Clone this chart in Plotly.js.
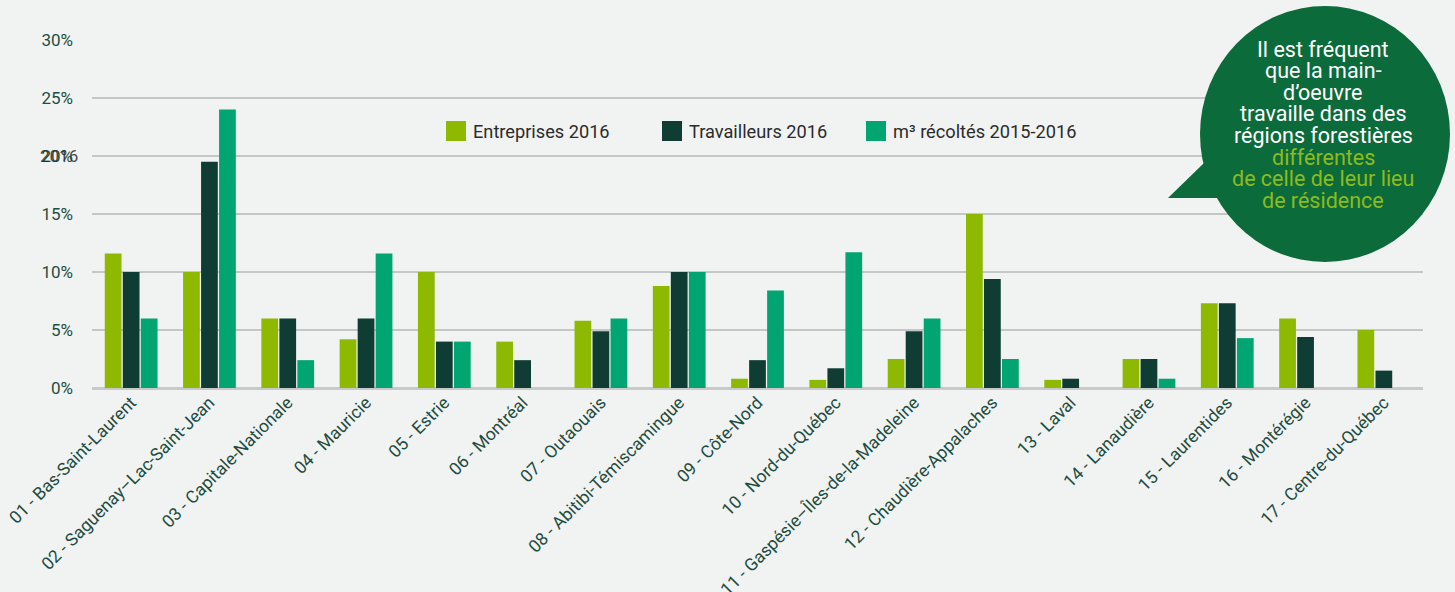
<!DOCTYPE html>
<html>
<head>
<meta charset="utf-8">
<script src="https://cdn.plot.ly/plotly-3.0.1.min.js"></script>
<style>
  html, body { margin: 0; padding: 0; background: #f1f3f2; }
  #chart { width: 1455px; height: 592px; }
</style>
</head>
<body>
<div id="chart"></div>
<script>
const regions = [
  "01 - Bas-Saint-Laurent",
  "02 - Saguenay–Lac-Saint-Jean",
  "03 - Capitale-Nationale",
  "04 - Mauricie",
  "05 - Estrie",
  "06 - Montréal",
  "07 - Outaouais",
  "08 - Abitibi-Témiscamingue",
  "09 - Côte-Nord",
  "10 - Nord-du-Québec",
  "11 - Gaspésie–Îles-de-la-Madeleine",
  "12 - Chaudière-Appalaches",
  "13 - Laval",
  "14 - Lanaudière",
  "15 - Laurentides",
  "16 - Montérégie",
  "17 - Centre-du-Québec"
];
const entreprises2016 = [11.6, 10.0, 6.0, 4.2, 10.0, 4.0, 5.8, 8.8, 0.8, 0.7, 2.5, 15.0, 0.7, 2.5, 7.3, 6.0, 5.0];
const travailleurs2016 = [10.0, 19.5, 6.0, 6.0, 4.0, 2.4, 4.9, 10.0, 2.4, 1.7, 4.9, 9.4, 0.8, 2.5, 7.3, 4.4, 1.5];
const m3Recoltes = [6.0, 24.0, 2.4, 11.6, 4.0, null, 6.0, 10.0, 8.4, 11.7, 6.0, 2.5, null, 0.8, 4.3, null, null];
const seriesNames = ["Entreprises 2016", "Travailleurs 2016", "m³ récoltés 2015-2016"];
const yTicks = [0, 5, 10, 15, 20, 25, 30];
const yTickLabels = ["0%", "5%", "10%", "15%", "20%", "25%", "30%"];
const bubbleLines = [
  "Il est fréquent",
  "que la main-",
  "d’oeuvre",
  "travaille dans des",
  "régions forestières",
  "différentes",
  "de celle de leur lieu",
  "de résidence"
];
const bubbleHighlight = [false, false, false, false, false, true, true, true];

const colors = ["#8dba00", "#0f3d34", "#00a571"];
const seriesValues = [entreprises2016, travailleurs2016, m3Recoltes];

const traces = seriesValues.map((vals, i) => ({
  type: "bar",
  name: seriesNames[i],
  x: regions,
  y: vals,
  showlegend: false,
  marker: { color: colors[i], line: { width: 0 } },
  hovertemplate: "%{x}<br>%{y}%<extra>" + seriesNames[i] + "</extra>"
}));

// plot-area pixel helpers for decorative elements
const L = 92, R = 32, T = 40, B = 204, W = 1455, H = 592;
const pw = W - L - R, ph = H - T - B;
const px = v => (v - L) / pw;
const py = v => (H - B - v) / ph;

// custom legend (large swatches as in the original)
const legendSwatchX = [446, 662, 866];
const legendShapes = seriesNames.map((n, i) => ({
  type: "rect",
  xref: "paper", yref: "paper",
  x0: px(legendSwatchX[i]), x1: px(legendSwatchX[i] + 20),
  y0: py(141), y1: py(121),
  fillcolor: colors[i],
  line: { width: 0 }
}));
const legendAnnotations = seriesNames.map((n, i) => ({
  xref: "paper", yref: "paper",
  x: px(legendSwatchX[i] + 25), y: py(131),
  xanchor: "left", yanchor: "middle",
  text: n,
  showarrow: false,
  font: { family: "Roboto, sans-serif", size: 18.2, color: "#2b2b2b" }
}));

const bubbleAnnotations = bubbleLines.map((line, i) => ({
  xref: "paper", yref: "paper",
  x: px(1323), y: py(49 + i * 21.6),
  text: line,
  showarrow: false,
  borderpad: 0,
  xanchor: "center", yanchor: "middle",
  font: { family: "Roboto, sans-serif", size: 21.5, color: bubbleHighlight[i] ? "#8cbb1d" : "#ffffff" }
}));

const layout = {
  width: W, height: H,
  paper_bgcolor: "#f1f3f2",
  plot_bgcolor: "rgba(0,0,0,0)",
  margin: { l: L, r: R, t: T, b: B },
  barmode: "group",
  bargap: 0.31,
  bargroupgap: 0.07,
  showlegend: false,
  font: { family: "Roboto, 'Noto Sans', sans-serif", color: "#1f4d40" },
  xaxis: {
    type: "category",
    tickangle: -45,
    tickfont: { family: "Roboto, sans-serif", size: 17.5, color: "#1e4c3e" },
    showgrid: false,
    showline: false,
    ticks: "",
    zeroline: false
  },
  yaxis: {
    range: [0, 30],
    tickvals: yTicks,
    ticktext: yTickLabels,
    tickfont: { family: "Roboto, sans-serif", size: 17, color: "#1f4d40" },
    ticklabelstandoff: 18,
    gridcolor: "#c3c8c6",
    gridwidth: 1.5,
    zeroline: true,
    zerolinecolor: "#c9c9c9",
    zerolinewidth: 2.5,
    showline: false,
    ticks: ""
  },
  shapes: legendShapes.concat([
    {
      type: "path",
      xref: "paper", yref: "paper",
      path: `M ${px(1168)} ${py(198)} L ${px(1205)} ${py(162)} L ${px(1228)} ${py(198)} Z`,
      fillcolor: "#0c6b3a",
      line: { width: 0 }
    },
    {
      type: "circle",
      xref: "paper", yref: "paper",
      x0: px(1200), x1: px(1450),
      y0: py(262), y1: py(6),
      fillcolor: "#0c6b3a",
      line: { width: 0 }
    }
  ]),
  annotations: legendAnnotations.concat(bubbleAnnotations).concat([
    {
      xref: "paper", yref: "y",
      x: px(80), y: 20,
      xanchor: "right", yanchor: "middle",
      text: "2016",
      showarrow: false,
      font: { family: "Roboto, sans-serif", size: 17, color: "rgba(40,40,40,0.85)" }
    }
  ])
};

Plotly.newPlot("chart", traces, layout, { displayModeBar: false, responsive: false });
</script>
</body>
</html>
